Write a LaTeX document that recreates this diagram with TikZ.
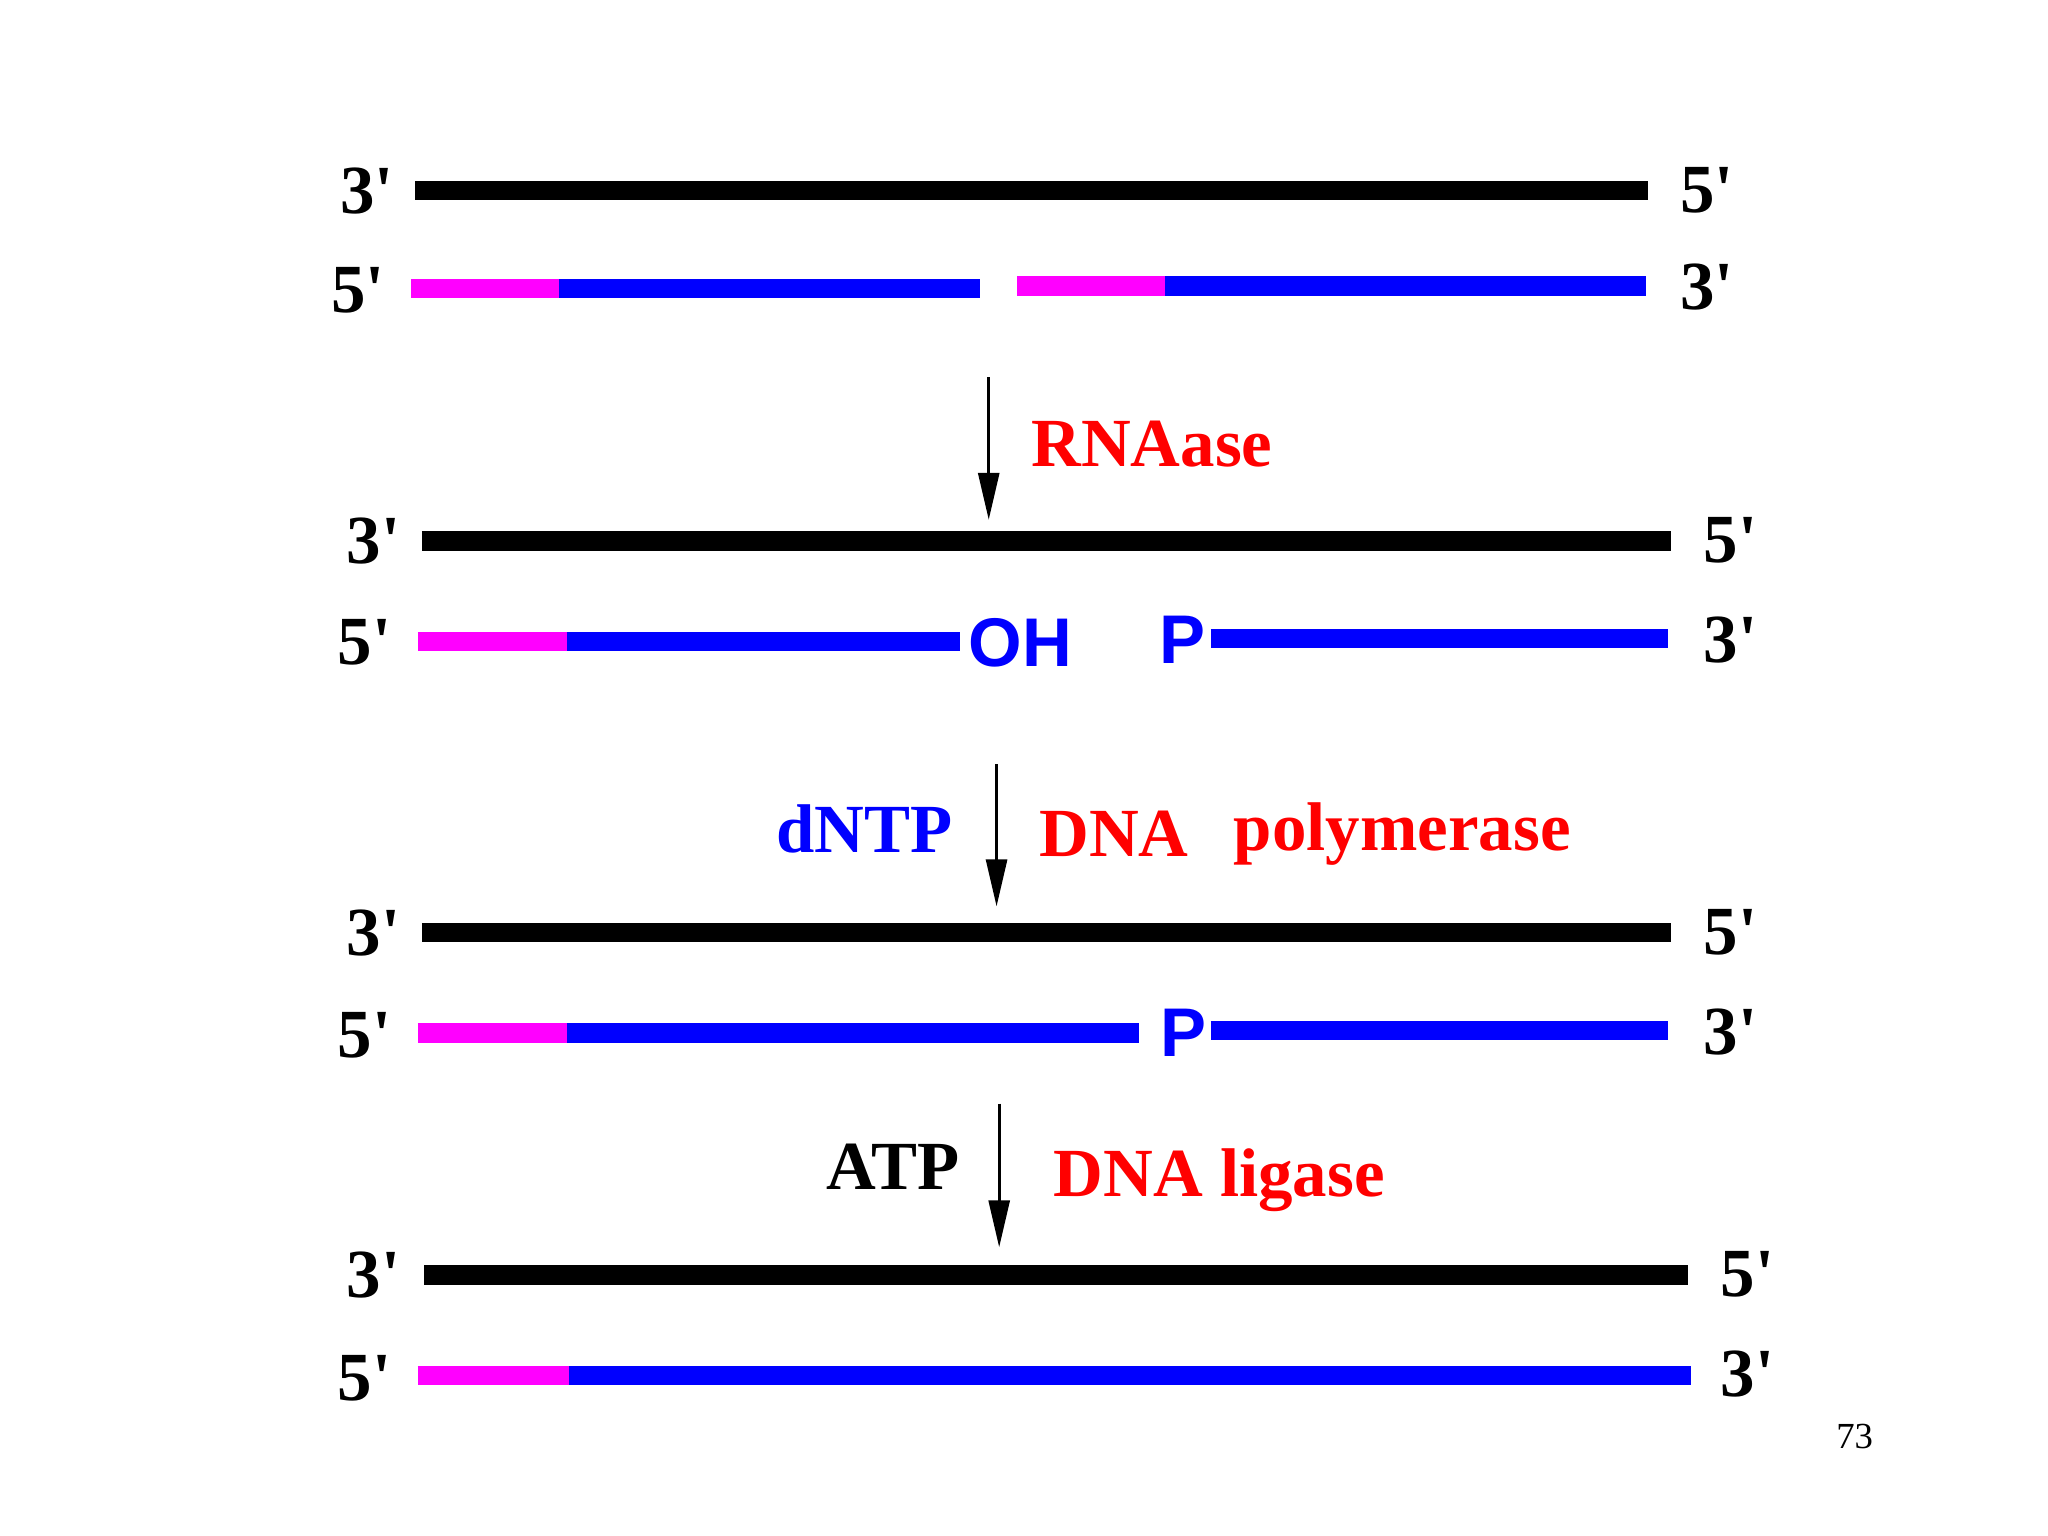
\documentclass[tikz,border=0pt]{standalone}
\usepackage{fontspec}
\setmainfont{Liberation Serif}[Ligatures=TeXOff]
\newfontfamily\sansbold{Liberation Sans}[Ligatures=TeXOff]
\usetikzlibrary{arrows.meta}
\definecolor{dnablue}{RGB}{0,0,255}
\definecolor{rnapink}{RGB}{255,0,255}
\definecolor{enzred}{RGB}{255,0,0}
\tikzset{
  strand/.style={line width=0.15cm},
  tmpl/.style={strand,black},
  rna/.style={strand,rnapink},
  dna/.style={strand,dnablue},
  lbl/.style={inner sep=0pt,font=\fontsize{15}{18}\selectfont\bfseries},
  enz/.style={lbl,anchor=base west,text=enzred},
  grp/.style={inner sep=0pt,font=\fontsize{15}{18}\selectfont\sansbold\bfseries,text=dnablue,anchor=base west},
  arr/.style={line width=0.024cm,-{Triangle[length=0.36cm,width=0.16cm]}}
}
\begin{document}
\begin{tikzpicture}[x=0.01cm,y=-0.01cm]
\useasboundingbox (0,0) rectangle (1568,1176);

\node[lbl] (a3) at (281,146) {3'};
\node[lbl] (a5) at (1307,146) {5'};
\node[lbl] (b5) at (274,222) {5'};
\node[lbl] (b3) at (1307,220) {3'};
\coordinate (aw) at (318,146);
\coordinate (ae) at (1262,146);
\coordinate (b1) at (315,221);
\coordinate (b2) at (428,221);
\coordinate (b3e) at (750,221);
\coordinate (b4) at (779,219);
\coordinate (b5s) at (892,219);
\coordinate (b6) at (1260,219);
\path[draw,tmpl] (aw) -- (ae);
\path[draw,rna] (b1) -- (b2);
\path[draw,dna] (b2) -- (b3e);
\path[draw,rna] (b4) -- (b5s);
\path[draw,dna] (b5s) -- (b6);

\coordinate (s1) at (757,289);
\coordinate (e1) at (757,398);
\path[draw,arr] (s1) -- (e1);
\node[enz] (rnaase) at (789,357) {RNAase};

\node[lbl] (c3) at (286,414) {3'};
\node[lbl] (c5) at (1325,414) {5'};
\node[lbl] (d5) at (279,492) {5'};
\node[lbl] (d3) at (1325,490) {3'};
\coordinate (cw) at (323,414);
\coordinate (ce) at (1279,414);
\coordinate (d1) at (320,491);
\coordinate (d2) at (434,491);
\coordinate (d3e) at (735,491);
\coordinate (d4) at (927,489);
\coordinate (d5e) at (1277,489);
\path[draw,tmpl] (cw) -- (ce);
\path[draw,rna] (d1) -- (d2);
\path[draw,dna] (d2) -- (d3e);
\path[draw,dna] (d4) -- (d5e);
\node[grp] (oh) at (741,510) {OH};
\node[grp] (p1) at (887,508) {P};

\coordinate (s2) at (763,585);
\coordinate (e2) at (763,694);
\path[draw,arr] (s2) -- (e2);
\node[lbl,anchor=base east,text=dnablue] (dntp) at (730,653) {dNTP};
\node[enz] (dna) at (795,656) {DNA};
\node[enz] (pol) at (944,651) {polymerase};

\node[lbl] (f3) at (286,714) {3'};
\node[lbl] (f5) at (1325,714) {5'};
\node[lbl] (g5) at (279,793) {5'};
\node[lbl] (g3) at (1325,790) {3'};
\coordinate (fw) at (323,714);
\coordinate (fe) at (1279,714);
\coordinate (g1) at (320,791);
\coordinate (g2) at (434,791);
\coordinate (g3e) at (872,791);
\coordinate (g4) at (927,789);
\coordinate (g5e) at (1277,789);
\path[draw,tmpl] (fw) -- (fe);
\path[draw,rna] (g1) -- (g2);
\path[draw,dna] (g2) -- (g3e);
\path[draw,dna] (g4) -- (g5e);
\node[grp] (p2) at (888,809) {P};

\coordinate (s3) at (765,845);
\coordinate (e3) at (765,955);
\path[draw,arr] (s3) -- (e3);
\node[lbl,anchor=base east] (atp) at (735,911) {ATP};
\node[enz] (lig) at (806,916) {DNA ligase};

\node[lbl] (h3) at (286,976) {3'};
\node[lbl] (h5) at (1338,976) {5'};
\node[lbl] (k5) at (279,1055) {5'};
\node[lbl] (k3) at (1338,1052) {3'};
\coordinate (hw) at (325,976);
\coordinate (he) at (1292,976);
\coordinate (k1) at (320,1053);
\coordinate (k2) at (436,1053);
\coordinate (k3e) at (1295,1053);
\path[draw,tmpl] (hw) -- (he);
\path[draw,rna] (k1) -- (k2);
\path[draw,dna] (k2) -- (k3e);

\node[inner sep=0pt,font=\fontsize{8}{10}\selectfont] (page) at (1420,1100) {73};
\end{tikzpicture}
\end{document}
